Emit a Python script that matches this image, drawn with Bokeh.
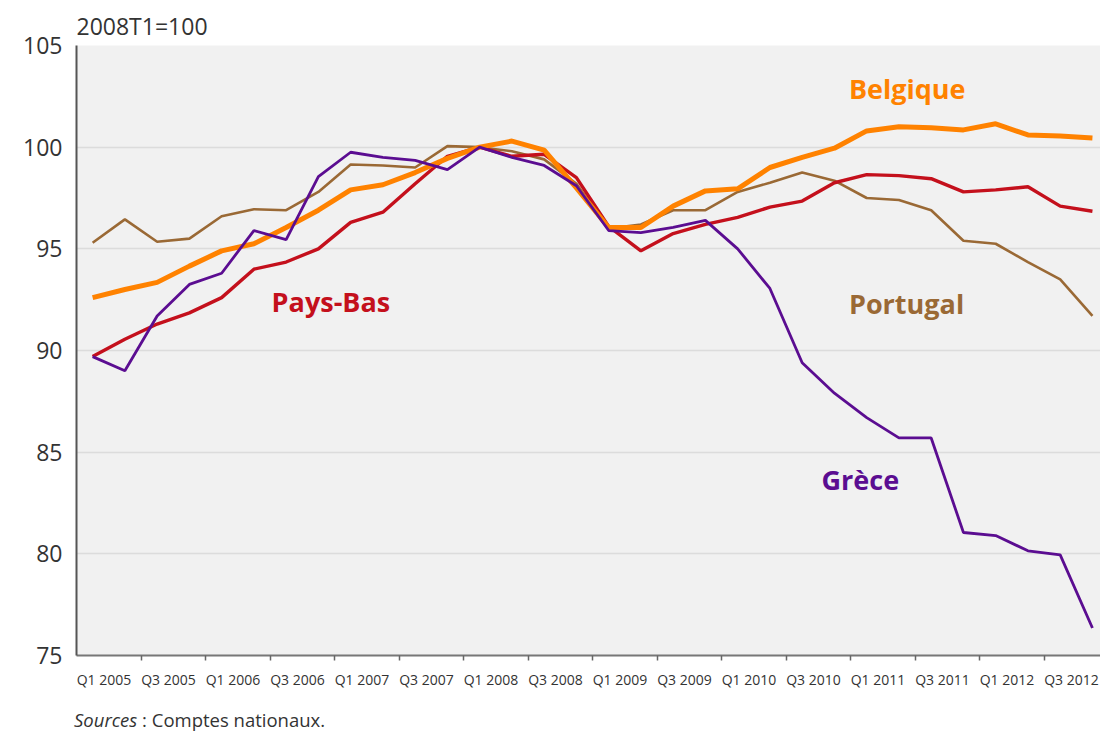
from bokeh.plotting import figure
from bokeh.layouts import column
from bokeh.models import FixedTicker, Range1d, Div
from bokeh.embed import file_html
from bokeh.resources import INLINE
from bokeh.core.properties import value

# Quarterly index, 2008T1 = 100, Q1 2005 .. Q4 2012
quarters = [f"Q{q} {y}" for y in range(2005, 2013) for q in (1, 2, 3, 4)]
tick_labels = ["Q1 2005", "Q3 2005", "Q1 2006", "Q3 2006", "Q1 2007", "Q3 2007",
               "Q1 2008", "Q3 2008", "Q1 2009", "Q3 2009", "Q1 2010", "Q3 2010",
               "Q1 2011", "Q3 2011", "Q1 2012", "Q3 2012"]

belgique = [92.6, 93.0, 93.35, 94.15, 94.9, 95.25, 96.05, 96.9,
            97.9, 98.15, 98.75, 99.45, 100.0, 100.3, 99.85, 98.0,
            96.05, 96.05, 97.1, 97.85, 97.95, 99.0, 99.5, 99.95,
            100.8, 101.0, 100.95, 100.85, 101.15, 100.6, 100.55, 100.45]
pays_bas = [89.7, 90.55, 91.3, 91.85, 92.6, 94.0, 94.35, 95.0,
            96.3, 96.8, 98.2, 99.55, 100.0, 99.55, 99.65, 98.5,
            96.1, 94.9, 95.75, 96.2, 96.55, 97.05, 97.35, 98.25,
            98.65, 98.6, 98.45, 97.8, 97.9, 98.05, 97.1, 96.85]
portugal = [95.3, 96.45, 95.35, 95.5, 96.6, 96.95, 96.9, 97.8,
            99.15, 99.1, 99.0, 100.05, 100.0, 99.8, 99.4, 98.2,
            96.0, 96.2, 96.9, 96.9, 97.8, 98.25, 98.75, 98.35,
            97.5, 97.4, 96.9, 95.4, 95.25, 94.35, 93.5, 91.7]
grece = [89.7, 89.0, 91.7, 93.25, 93.8, 95.9, 95.45, 98.55,
         99.75, 99.5, 99.35, 98.9, 100.0, 99.5, 99.1, 98.1,
         95.9, 95.8, 96.05, 96.4, 95.0, 93.05, 89.4, 87.9,
         86.7, 85.7, 85.7, 81.05, 80.9, 80.15, 79.95, 76.35]

x = list(range(len(quarters)))

C_BEL = "#FF8200"
C_NL = "#C4101C"
C_PT = "#9A6935"
C_GR = "#5B0D91"

fig = figure(width=1100, height=700,
             x_range=Range1d(-0.5, 31.25), y_range=Range1d(75, 105),
             output_backend="svg", toolbar_location=None,
             min_border_left=76, min_border_right=0,
             min_border_top=45, min_border_bottom=45)

fig.background_fill_color = "#F1F1F1"
fig.border_fill_color = "white"
fig.outline_line_color = None

# title
fig.title.text = "2008T1=100"
fig.title.align = "left"
fig.title.text_font = "Open Sans"
fig.title.text_font_style = "normal"
fig.title.text_font_size = "23px"
fig.title.text_color = "#333333"
fig.title.standoff = 8

# lines
fig.line(x, portugal, line_color=C_PT, line_width=2.6)
fig.line(x, pays_bas, line_color=C_NL, line_width=3.4)
fig.line(x, belgique, line_color=C_BEL, line_width=5)
fig.line(x, grece, line_color=C_GR, line_width=2.8)

# series labels
font = value("Open Sans")
lab_kw = dict(text_font=font, text_font_style="bold", text_font_size="27px",
              text_align="left", text_baseline="middle")
fig.text(x=[23.45], y=[102.9], text=["Belgique"], text_color=C_BEL, **lab_kw)
fig.text(x=[5.55], y=[92.4], text=["Pays-Bas"], text_color=C_NL, **lab_kw)
fig.text(x=[23.45], y=[92.3], text=["Portugal"], text_color=C_PT, **lab_kw)
fig.text(x=[22.6], y=[83.65], text=["Grèce"], text_color=C_GR, **lab_kw)

# y axis
fig.yaxis.ticker = FixedTicker(ticks=[75, 80, 85, 90, 95, 100, 105])
fig.yaxis.major_tick_out = 0
fig.yaxis.major_tick_in = 0
fig.yaxis.minor_tick_out = 0
fig.yaxis.minor_tick_in = 0
fig.yaxis.axis_line_color = "#555555"
fig.yaxis.axis_line_width = 2
fig.yaxis.major_label_text_font = "Open Sans"
fig.yaxis.major_label_text_font_size = "23px"
fig.yaxis.major_label_text_color = "#333333"
fig.yaxis.major_label_standoff = 14

# x axis
label_pos = [2 * k + 0.35 for k in range(len(tick_labels))]
tick_pos = [2 * k + 1.5 for k in range(len(tick_labels) - 1)]
fig.xaxis.ticker = FixedTicker(ticks=label_pos, minor_ticks=tick_pos)
fig.xaxis.major_label_overrides = {pos: lab for pos, lab in zip(label_pos, tick_labels)}
fig.xaxis.major_tick_out = 0
fig.xaxis.major_tick_in = 0
fig.xaxis.minor_tick_out = 5
fig.xaxis.minor_tick_in = 0
fig.xaxis.minor_tick_line_color = "#666666"
fig.xaxis.minor_tick_line_width = 1.5
fig.xaxis.axis_line_color = "#777777"
fig.xaxis.axis_line_width = 2
fig.xaxis.major_label_text_font = "Open Sans"
fig.xaxis.major_label_text_font_size = "14px"
fig.xaxis.major_label_text_color = "#333333"
fig.xaxis.major_label_standoff = 9

# grid
fig.xgrid.grid_line_color = None
fig.ygrid.ticker = FixedTicker(ticks=[80, 85, 90, 95, 100])
fig.ygrid.grid_line_color = "#DCDCDC"
fig.ygrid.grid_line_width = 1.5

source = Div(
    text='<div style="font-family:\'Open Sans\'; font-size:18.5px; color:#333333; '
         'padding-left:74px; padding-top:7px; white-space:nowrap;">'
         '<i>Sources</i> : Comptes nationaux.</div>',
    width=600, height=31, margin=(0, 0, 0, 0))

p = column(fig, source, spacing=0)

open("out.html", "w").write(file_html(p, INLINE))
